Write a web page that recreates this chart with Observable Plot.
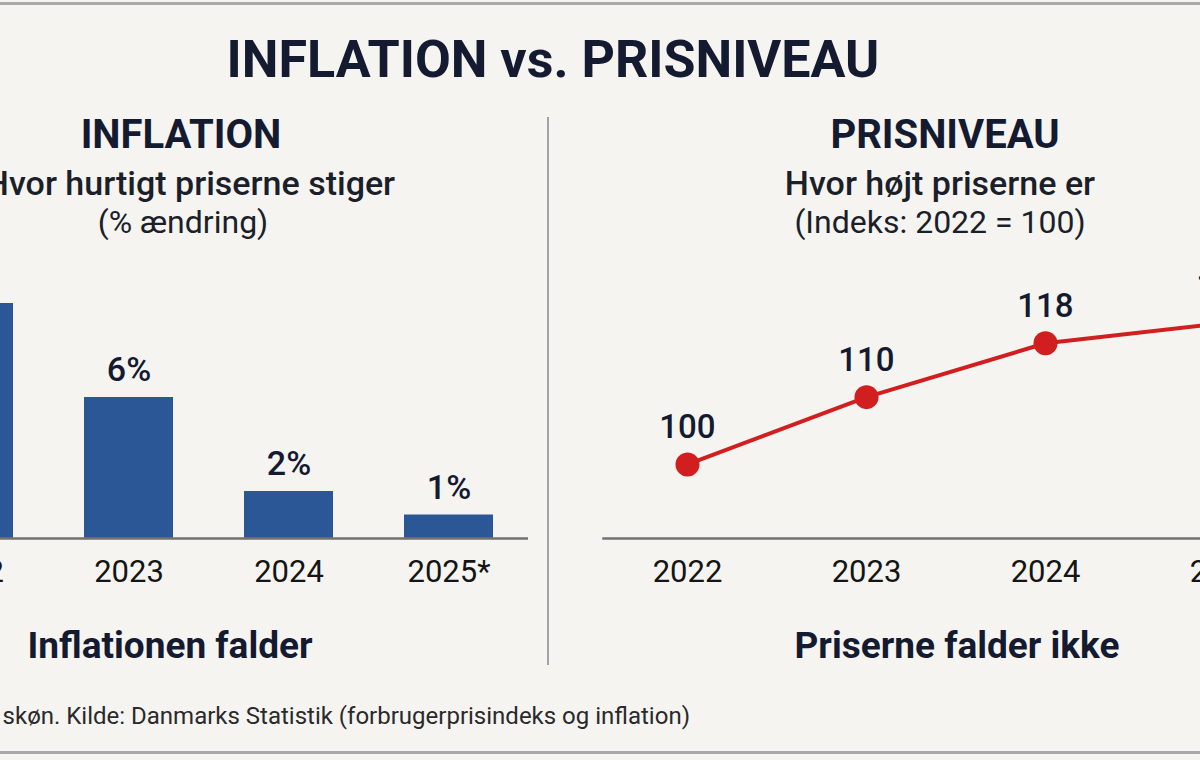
<!DOCTYPE html>
<html lang="da">
<head>
<meta charset="utf-8">
<script src="https://cdn.jsdelivr.net/npm/d3@7"></script>
<script src="https://cdn.jsdelivr.net/npm/@observablehq/plot@0.6"></script>
<style>
  html, body { margin: 0; padding: 0; }
  body {
    width: 1200px; height: 760px; overflow: hidden; position: relative;
    background: #f6f4f0; font-family: Roboto, "Noto Sans", sans-serif; color: #141a30;
  }
  .rule-h { position: absolute; left: 0; width: 1200px; height: 3px; background: #a9a9a9; }
  .divider { position: absolute; left: 547px; top: 117px; width: 2px; height: 548px; background: #a3a3a3; }
  .t { position: absolute; white-space: nowrap; transform: translate(-50%, -50%); line-height: 1; }
  .main-title { font-size: 52px; font-weight: 700; }
  .panel-title { font-size: 40px; font-weight: 700; }
  .sub { font-size: 34px; font-weight: 500; color: #1b1f2a; }
  .sub2 { font-size: 32px; font-weight: 400; color: #1b1f2a; }
  .takeaway { font-size: 37px; font-weight: 700; }
  .note { position: absolute; top: 716px; right: 510px; transform: translateY(-50%); white-space: nowrap;
          font-size: 24px; color: #2a2a2a; line-height: 1; }
  .chart { position: absolute; }
  .chart svg { overflow: visible; }
</style>
</head>
<body>
<div class="rule-h" style="top:2px"></div>
<div class="rule-h" style="top:751px"></div>

<div class="t main-title" style="left:553px; top:60px">INFLATION vs. PRISNIVEAU</div>

<div class="t panel-title" style="left:181px; top:135px">INFLATION</div>
<div class="t sub" style="left:190px; top:183px">Hvor hurtigt priserne stiger</div>
<div class="t sub2" style="left:183px; top:222px">(% ændring)</div>

<div class="t panel-title" style="left:945px; top:135px">PRISNIVEAU</div>
<div class="t sub" style="left:940px; top:183px">Hvor højt priserne er</div>
<div class="t sub2" style="left:940px; top:222px">(Indeks: 2022 = 100)</div>

<div class="divider"></div>

<div class="chart" id="bars" style="left:-160px; top:250px"></div>
<div class="chart" id="line" style="left:560px; top:250px"></div>

<div class="t takeaway" style="left:170px; top:645px">Inflationen falder</div>
<div class="t takeaway" style="left:957px; top:645px">Priserne falder ikke</div>

<div class="note">*2025: Foreløbigt skøn. Kilde: Danmarks Statistik (forbrugerprisindeks og inflation)</div>

<script>
// Årlig inflation i procent
const inflationYears = ["2022", "2023", "2024", "2025*"];
const inflationValues = [10, 6, 2, 1];

// Forbrugerprisindeks, 2022 = 100
const priceYears = ["2022", "2023", "2024", "2025"];
const priceValues = [100, 110, 118, 121];

const barColor = "#2c5797";
const lineColor = "#d11f1f";
const ink = "#141a30";

const inflation = inflationYears.map((year, i) => ({year, value: inflationValues[i]}));
const prices = priceYears.map((year, i) => ({year, value: priceValues[i]}));

const chartStyle = {background: "transparent", maxWidth: "none", fontFamily: "Roboto, sans-serif", color: ink, overflow: "visible"};

const barChart = Plot.plot({
  width: 688,
  height: 348,
  marginLeft: 48,
  marginRight: 0,
  marginTop: 53,
  marginBottom: 60,
  style: chartStyle,
  x: {domain: inflationYears, paddingInner: 0.444, paddingOuter: 0.222, label: null},
  y: {domain: [0, 10], axis: null},
  marks: [
    Plot.barY(inflation, {x: "year", y: "value", fill: barColor}),
    Plot.ruleY([0], {stroke: "#727272", strokeWidth: 2.5}),
    Plot.text(inflation, {x: "year", y: "value", text: d => `${d.value}%`, dy: -27,
      fontSize: 34, fontWeight: 500, fill: ink}),
    Plot.axisX({tickSize: 0, tickPadding: 21, fontSize: 31, fill: "#151515", label: null})
  ]
});
document.getElementById("bars").append(barChart);

const lineChart = Plot.plot({
  width: 747,
  height: 348,
  marginLeft: 43,
  marginRight: 0,
  marginTop: 12,
  marginBottom: 60,
  style: chartStyle,
  x: {type: "point", domain: priceYears, padding: 0.456, label: null},
  y: {domain: [89, 130], axis: null},
  marks: [
    Plot.frame({anchor: "bottom", stroke: "#727272", strokeWidth: 2.5}),
    Plot.line(prices, {x: "year", y: "value", stroke: lineColor, strokeWidth: 4}),
    Plot.dot(prices, {x: "year", y: "value", r: 12, fill: lineColor}),
    Plot.text(prices, {x: "year", y: "value", text: d => `${d.value}`, dy: -37,
      fontSize: 33, fontWeight: 500, fill: ink}),
    Plot.axisX({tickSize: 0, tickPadding: 21, fontSize: 31, fill: "#151515", label: null})
  ]
});
document.getElementById("line").append(lineChart);
</script>
</body>
</html>
